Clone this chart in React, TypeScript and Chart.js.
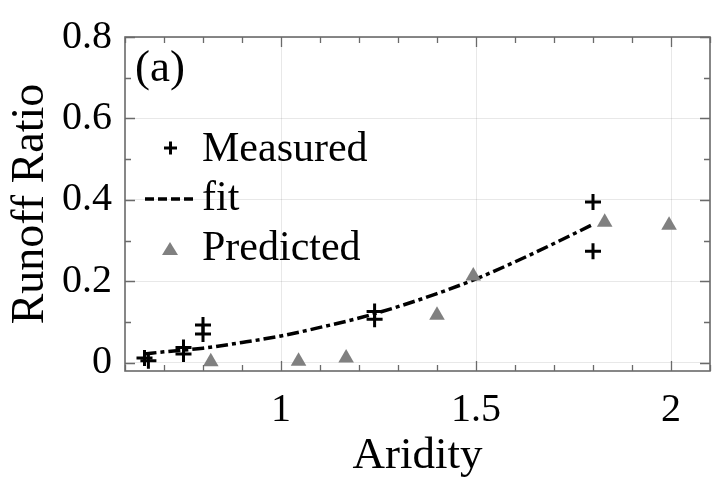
import React, { useEffect, useRef } from "react";
import { Chart, registerables } from "chart.js";

Chart.register(...registerables);

const measuredX = [0.65, 0.66, 0.75, 0.75, 0.8, 0.8, 1.24, 1.24, 1.8, 1.8];
const measuredY = [0.012, 0.005, 0.038, 0.022, 0.093, 0.071, 0.126, 0.107, 0.395, 0.274];

const fitX = [0.65, 0.7, 0.8, 0.9, 1.0, 1.1, 1.2, 1.3, 1.4, 1.5, 1.6, 1.7, 1.8];
const fitY = [0.022, 0.027, 0.036, 0.05, 0.066, 0.087, 0.11, 0.138, 0.17, 0.206, 0.248, 0.293, 0.34];

const predictedX = [0.82, 1.045, 1.167, 1.4, 1.493, 1.83, 1.995];
const predictedY = [0.003, 0.004, 0.012, 0.117, 0.213, 0.345, 0.338];

const xMajorLabels = [1, 1.5, 2];
const yMajorLabels = [0, 0.2, 0.4, 0.6, 0.8];

const FONT = "'Liberation Serif', 'Times New Roman', serif";
const GRID = "rgba(0,0,0,0.09)";
const AXIS = "#6a6a6a";
const FIT_DASH = [12, 4, 4, 4];

const isIn = (arr: number[], v: number) => arr.some((a) => Math.abs(a - v) < 1e-6);

const decorPlugin = {
  id: "decor",
  afterDatasetsDraw(chart: any) {
    const { ctx, chartArea } = chart;
    const { left, top, right, bottom } = chartArea;
    const xs = chart.scales.x;
    const ys = chart.scales.y;
    ctx.save();
    ctx.strokeStyle = AXIS;
    ctx.lineWidth = 1.3;
    ctx.beginPath();
    xs.ticks.forEach((t: any) => {
      const px = Math.round(xs.getPixelForValue(t.value)) + 0.5;
      const len = isIn([1, 1.5, 2], t.value) ? 10 : 6;
      ctx.moveTo(px, bottom);
      ctx.lineTo(px, bottom - len);
      ctx.moveTo(px, top);
      ctx.lineTo(px, top + len);
    });
    ys.ticks.forEach((t: any) => {
      const py = Math.round(ys.getPixelForValue(t.value)) + 0.5;
      const len = isIn(yMajorLabels, t.value) ? 10 : 6;
      ctx.moveTo(left, py);
      ctx.lineTo(left + len, py);
      ctx.moveTo(right, py);
      ctx.lineTo(right - len, py);
    });
    ctx.stroke();
    ctx.lineWidth = 1.6;
    ctx.strokeRect(left, top, right - left, bottom - top);

    // panel label
    ctx.fillStyle = "#000";
    ctx.font = `45px ${FONT}`;
    ctx.textBaseline = "alphabetic";
    ctx.textAlign = "left";
    ctx.fillText("(a)", 135, 81);

    // legend
    const ds = chart.data.datasets;
    ctx.font = `42px ${FONT}`;
    ctx.textBaseline = "middle";
    const textX = 202;
    // Measured
    ctx.strokeStyle = "#000";
    ctx.lineWidth = 3;
    ctx.beginPath();
    ctx.moveTo(164, 148);
    ctx.lineTo(177, 148);
    ctx.moveTo(170.5, 141.5);
    ctx.lineTo(170.5, 154.5);
    ctx.stroke();
    ctx.fillText(ds[0].label, textX, 150);
    // fit
    ctx.setLineDash([9, 4]);
    ctx.lineWidth = 3.5;
    ctx.beginPath();
    ctx.moveTo(145, 199);
    ctx.lineTo(194, 199);
    ctx.stroke();
    ctx.setLineDash([]);
    ctx.fillText(ds[1].label, textX, 199);
    // Predicted
    ctx.fillStyle = "#808080";
    ctx.beginPath();
    ctx.moveTo(170, 242);
    ctx.lineTo(178, 255);
    ctx.lineTo(162, 255);
    ctx.closePath();
    ctx.fill();
    ctx.fillStyle = "#000";
    ctx.fillText(ds[2].label, textX, 249);
    ctx.restore();
  },
};

export default function App() {
  const ref = useRef<HTMLCanvasElement | null>(null);

  useEffect(() => {
    if (!ref.current) return;
    const chart = new Chart(ref.current, {
      type: "scatter",
      data: {
        datasets: [
          {
            label: "Measured",
            data: measuredX.map((x, i) => ({ x, y: measuredY[i] })),
            pointStyle: "cross",
            pointRadius: 8,
            pointBorderWidth: 3,
            borderColor: "#000",
            backgroundColor: "#000",
            order: 1,
          },
          {
            label: "fit",
            type: "line",
            data: fitX.map((x, i) => ({ x, y: fitY[i] })),
            showLine: true,
            borderColor: "#000",
            borderWidth: 3.5,
            borderDash: FIT_DASH,
            pointRadius: 0,
            fill: false,
            tension: 0.4,
            cubicInterpolationMode: "monotone",
            order: 3,
          },
          {
            label: "Predicted",
            data: predictedX.map((x, i) => ({ x, y: predictedY[i] })),
            pointStyle: "triangle",
            pointRadius: 9,
            pointBorderWidth: 0,
            borderColor: "#808080",
            backgroundColor: "#808080",
            order: 2,
          },
        ],
      },
      options: {
        animation: false,
        responsive: false,
        devicePixelRatio: 1,
        layout: { padding: { top: 27, right: 1, left: 0, bottom: 0 } },
        plugins: {
          legend: { display: false },
          tooltip: { enabled: false },
        },
        scales: {
          x: {
            type: "linear",
            min: 0.6,
            max: 2.1,
            afterFit: (s: any) => {
              s.height = 120;
            },
            border: { display: false },
            grid: {
              drawTicks: false,
              lineWidth: 1,
              color: (c: any) => (c.tick && isIn(xMajorLabels, c.tick.value) ? GRID : "rgba(0,0,0,0)"),
            },
            ticks: {
              stepSize: 0.1,
              autoSkip: false,
              maxRotation: 0,
              padding: 15,
              color: "#000",
              font: { family: FONT, size: 40 },
              callback: (v: any) => (isIn(xMajorLabels, Number(v)) ? String(Math.round(Number(v) * 10) / 10) : ""),
            },
            title: {
              display: true,
              text: "Aridity",
              color: "#000",
              font: { family: FONT, size: 45 },
              padding: { top: 0, bottom: 8 },
            },
          },
          y: {
            type: "linear",
            min: -0.02,
            max: 0.8,
            afterFit: (s: any) => {
              s.width = 125;
            },
            border: { display: false },
            grid: {
              drawTicks: false,
              lineWidth: 1,
              color: (c: any) => (c.tick && isIn(yMajorLabels, c.tick.value) ? GRID : "rgba(0,0,0,0)"),
            },
            ticks: {
              stepSize: 0.1,
              includeBounds: false,
              autoSkip: false,
              padding: 13,
              color: "#000",
              font: { family: FONT, size: 40 },
              callback: (v: any) => (isIn(yMajorLabels, Number(v)) ? String(Math.round(Number(v) * 10) / 10) : ""),
            },
            title: {
              display: true,
              text: "Runoff Ratio",
              color: "#000",
              font: { family: FONT, size: 46 },
              padding: { top: 3, bottom: 0 },
            },
          },
        },
      },
      plugins: [decorPlugin],
    } as any);
    return () => chart.destroy();
  }, []);

  return (
    <div style={{ position: "fixed", left: 0, top: 0, width: 725, height: 491, background: "#fff" }}>
      <canvas ref={ref} width={725} height={491} style={{ display: "block" }} />
    </div>
  );
}
